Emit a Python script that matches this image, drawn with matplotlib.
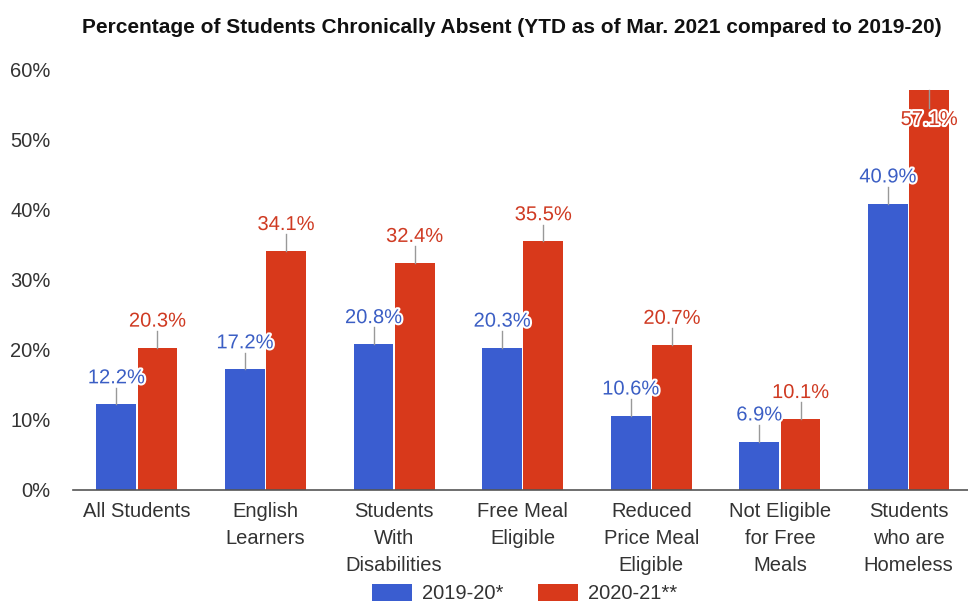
import matplotlib.pyplot as plt
import matplotlib.patheffects as pe
import numpy as np

plt.rcParams['font.family'] = ['Liberation Sans', 'DejaVu Sans']

categories = ['All Students', 'English\nLearners', 'Students\nWith\nDisabilities',
              'Free Meal\nEligible', 'Reduced\nPrice Meal\nEligible',
              'Not Eligible\nfor Free\nMeals', 'Students\nwho are\nHomeless']
y2019 = [12.2, 17.2, 20.8, 20.3, 10.6, 6.9, 40.9]
y2020 = [20.3, 34.1, 32.4, 35.5, 20.7, 10.1, 57.1]
series_names = ['2019-20*', '2020-21**']

blue = '#3a5dd0'
red = '#d8391b'
blue_txt = '#3b5ec4'
red_txt = '#cf3a22'

fig = plt.figure(figsize=(9.68, 6.07), dpi=100)
ax = fig.add_axes([0.075, 0.193, 0.93, 0.692])

x = np.arange(len(categories))
w = 0.31
b1 = ax.bar(x - w / 2 - 0.005, y2019, w, color=blue, label=series_names[0], zorder=2)
b2 = ax.bar(x + w / 2 + 0.005, y2020, w, color=red, label=series_names[1], zorder=2)

ymax = 60
halo = [pe.withStroke(linewidth=3, foreground='white')]


def annotate(xs, vals, col):
    for xi, v in zip(xs, vals):
        ly = v + 3.8
        if ly > ymax - 6:
            # no room above the bar, put the label just under its top
            ly = v - 4.2
            ax.plot([xi, xi], [v, ly + 1.6], color='#999999', lw=1, zorder=3)
        else:
            ax.plot([xi, xi], [v, ly - 1.4], color='#999999', lw=1, zorder=3)
        ax.text(xi, ly, f'{v:.1f}%', ha='center', va='center', fontsize=14.5,
                color=col, path_effects=halo, zorder=4)


annotate(x - w / 2 - 0.005, y2019, blue_txt)
annotate(x + w / 2 + 0.005, y2020, red_txt)

ax.set_ylim(0, ymax)
ax.set_xlim(-0.5, 6.5)
ax.set_yticks(range(0, 61, 10))
ax.set_yticklabels([f'{t}%' for t in range(0, 61, 10)])
ax.set_xticks(x)
ax.set_xticklabels(categories, va='top', linespacing=1.52)
ax.tick_params(axis='both', length=0, labelsize=14.5, colors='#333333')
ax.tick_params(axis='y', pad=16)
ax.tick_params(axis='x', pad=9)
for s in ['top', 'right', 'left']:
    ax.spines[s].set_visible(False)
ax.spines['bottom'].set_color('#555555')
ax.spines['bottom'].set_linewidth(1.2)

fig.text(0.529, 0.955, 'Percentage of Students Chronically Absent (YTD as of Mar. 2021 compared to 2019-20)',
         ha='center', va='center', fontsize=15, fontweight='bold', color='#111111')

fig.legend(handles=[b1, b2], loc='center', bbox_to_anchor=(0.542, 0.022), ncol=2,
           frameon=False, fontsize=14.5, handlelength=2.0, handleheight=0.9,
           handletextpad=0.5, columnspacing=1.7, labelcolor='#333333',
           borderpad=0.1)

fig.savefig('out.png', dpi=100)
